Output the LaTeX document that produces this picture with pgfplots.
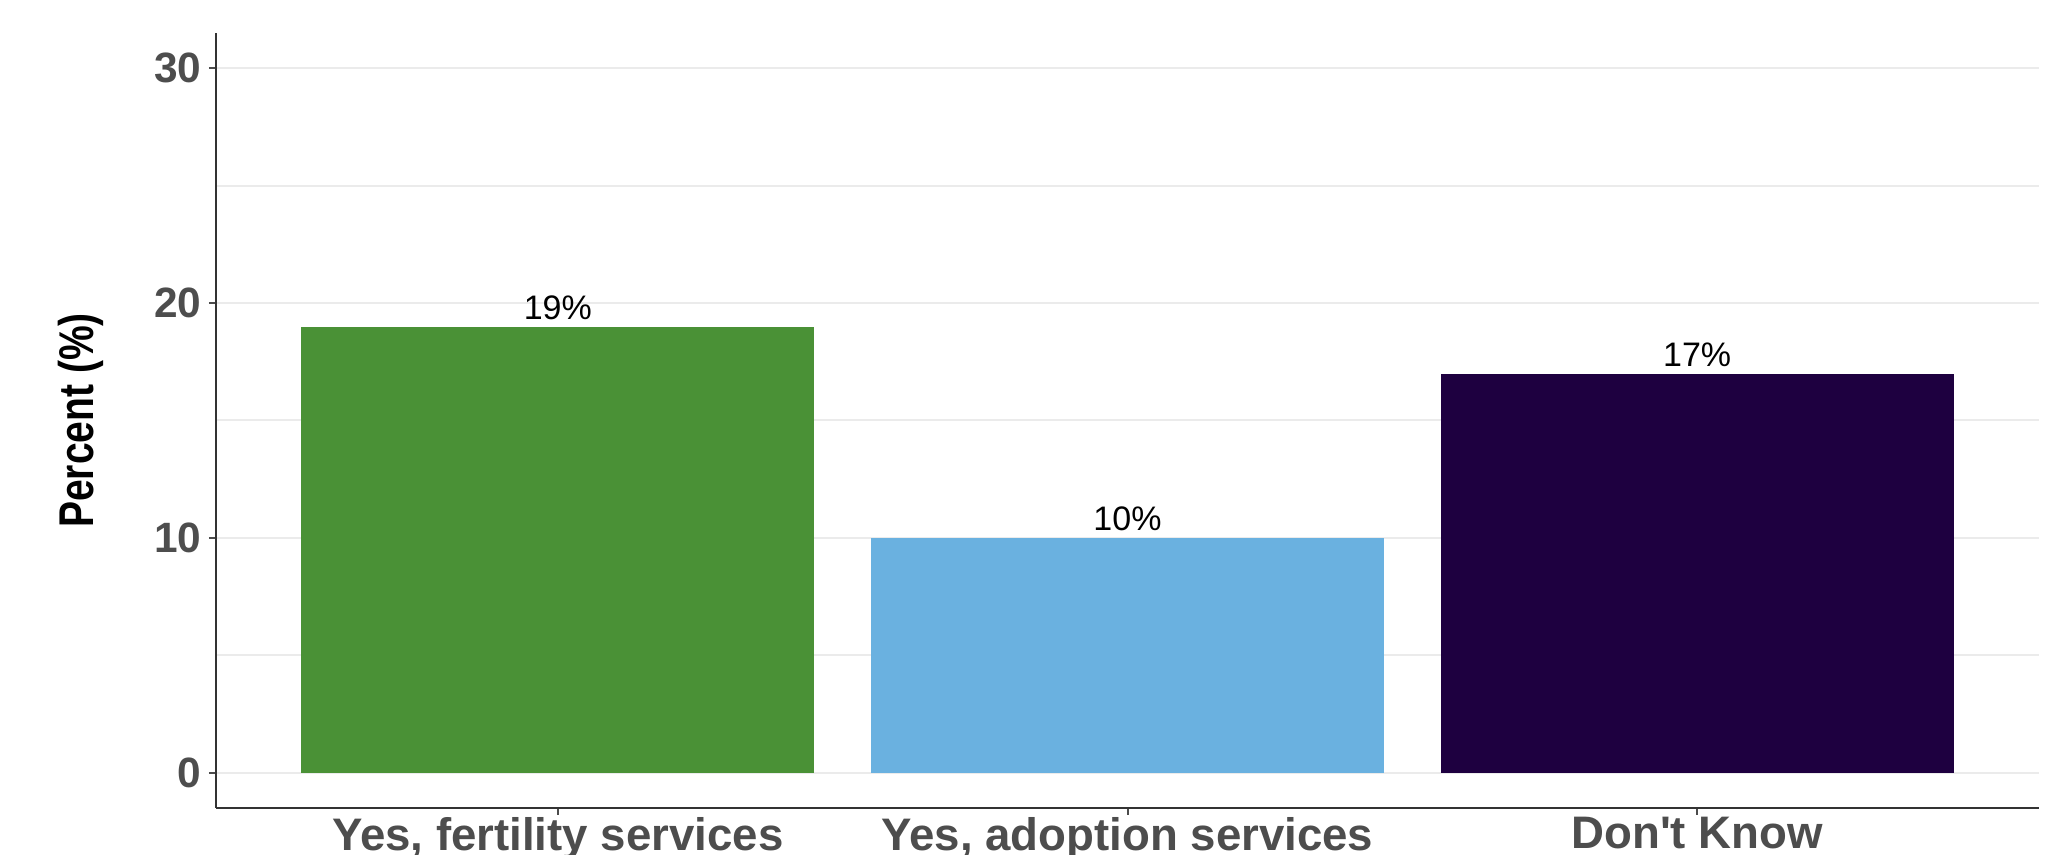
\documentclass[border=0pt]{standalone}
\usepackage{fontspec}
\setmainfont{Liberation Sans}
\newfontfamily\narrowfont[FakeStretch=0.8]{Liberation Sans}
\usepackage{pgfplots}
\pgfplotsset{compat=1.18}

\definecolor{fgreen}{RGB}{74,145,54}
\definecolor{fblue}{RGB}{106,177,224}
\definecolor{fpurple}{RGB}{30,0,64}
\definecolor{ticktext}{RGB}{77,77,77}
\definecolor{gridgray}{RGB}{235,235,235}

\begin{document}
\begin{tikzpicture}
\path[use as bounding box] (-54pt,-11.75pt) rectangle (460pt,202pt);
\begin{axis}[
    at={(0,0)}, anchor=south west,
    scale only axis,
    width=455.75pt, height=193.75pt,
    xmin=0.4, xmax=3.6,
    ymin=-1.5, ymax=31.5,
    axis x line*=bottom,
    axis y line*=left,
    axis line style={color=black!80, line width=0.7pt},
    xtick={1,2,3},
    xticklabels={{Yes, fertility services},{Yes, adoption services},{Don\textquotesingle t Know}},
    ytick={0,10,20,30},
    minor ytick={5,15,25},
    ymajorgrids, yminorgrids,
    major grid style={gridgray, line width=0.5pt},
    minor grid style={gridgray, line width=0.5pt},
    tick align=outside,
    major tick length=1.75pt,
    minor tick length=0pt,
    tick style={color=black!70, line width=0.5pt},
    /pgf/number format/assume math mode=true,
    xticklabel style={font=\fontsize{11.4}{13}\selectfont\bfseries, text=ticktext, yshift=2.9pt},
    yticklabel style={font=\fontsize{10.6}{12}\selectfont\bfseries, text=ticktext, xshift=1.6pt},
    every node near coord/.append style={font=\fontsize{8.5}{10}\selectfont, text=black, anchor=center, yshift=4.75pt},
    nodes near coords={\pgfmathprintnumber{\pgfplotspointmeta}\%},
    point meta=y,
]
\addplot[ybar, bar width=0.9, bar shift=0pt, fill=fgreen, draw=none] coordinates {(1,19)};
\addplot[ybar, bar width=0.9, bar shift=0pt, fill=fblue, draw=none] coordinates {(2,10)};
\addplot[ybar, bar width=0.9, bar shift=0pt, fill=fpurple, draw=none] coordinates {(3,17)};
\end{axis}
\node[rotate=90, font=\fontsize{12.2}{14}\narrowfont\bfseries] at (-33.7pt,96.9pt) {Percent (\%)};
\end{tikzpicture}
\end{document}
